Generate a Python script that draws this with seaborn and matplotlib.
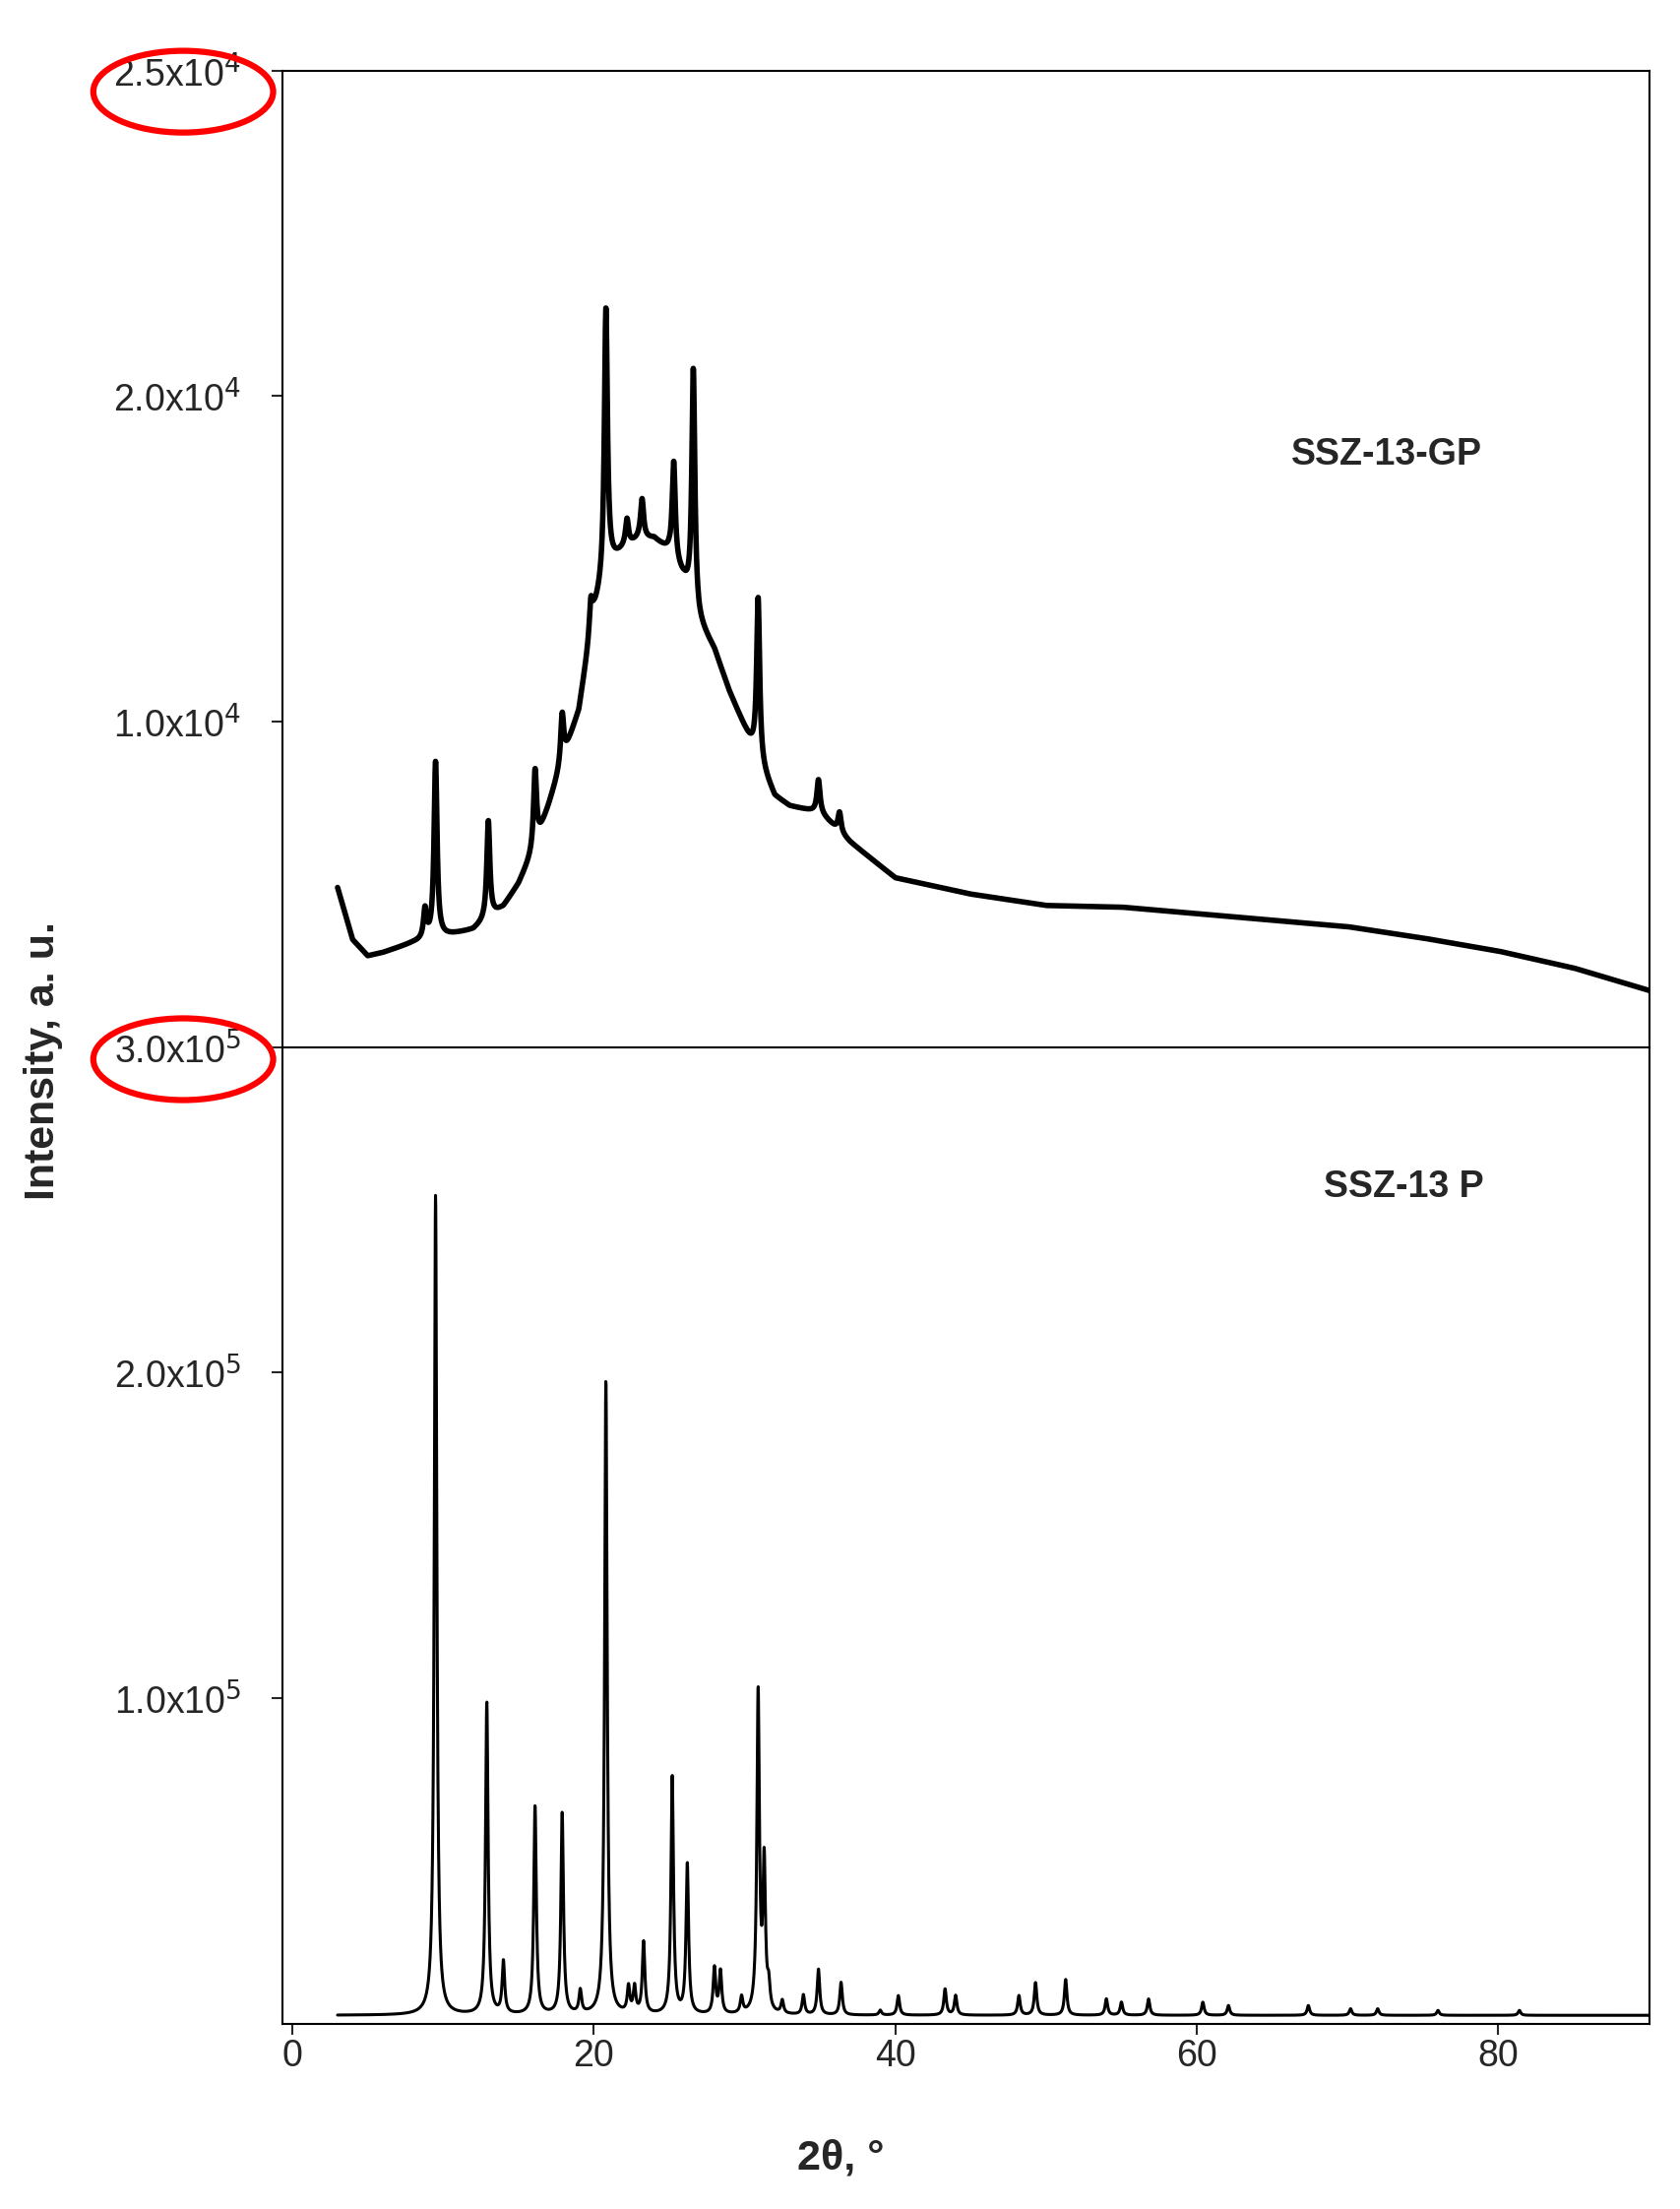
import numpy as np
import pandas as pd
import matplotlib
matplotlib.use("Agg")
import matplotlib.pyplot as plt
import seaborn as sns
from matplotlib.patches import Ellipse

sns.set_style("white")
plt.rcParams['font.family'] = ['Liberation Sans', 'DejaVu Sans']

# SSZ-13-GP: background points, plus peaks
gp_bg_x = [3, 4, 5, 6, 8, 10, 12, 14, 15, 16, 17, 18, 19, 20, 21, 22, 23, 24, 25, 26, 27, 28, 29, 30, 31, 32, 33, 35, 37, 40, 45, 50, 55, 60, 65, 70, 75, 80, 85, 90]
gp_bg_y = [4900, 3300, 2800, 2900, 3200, 3400, 3600, 4300, 5000, 6000, 7400, 8900, 10300, 13300, 14800, 15300, 15600, 15600, 15200, 14300, 13000, 12200, 10900, 9800, 8700, 7700, 7400, 7200, 6300, 5200, 4700, 4350, 4300, 4100, 3900, 3700, 3350, 2950, 2430, 1740]
gp_peak_pos = [8.8, 9.5, 13.0, 16.1, 17.9, 19.8, 20.8, 22.2, 23.2, 25.3, 26.6, 30.9, 34.9, 36.3]
gp_peak_h = [900, 5400, 3000, 2400, 1500, 1000, 8200, 800, 1200, 3000, 7300, 5000, 1000, 600]

# SSZ-13 P: baseline and peaks
p_bg = 2500
p_peak_pos = [9.5, 12.9, 14.0, 16.1, 17.9, 19.1, 20.8, 22.3, 22.7, 23.3, 25.2, 26.2, 28.0, 28.4, 29.8, 30.9, 31.3, 31.6, 32.5, 33.9, 34.9, 36.4, 39.0, 40.2, 43.3, 44.0, 48.2, 49.3, 51.3, 54.0, 55.0, 56.8, 60.4, 62.1, 67.4, 70.2, 72.0, 76.0, 81.4]
p_peak_h = [252000, 96000, 16000, 64000, 62000, 7000, 195000, 8000, 8000, 22000, 73000, 46000, 14000, 13000, 5000, 98000, 45000, 7000, 4000, 6000, 14000, 10000, 1500, 6000, 8000, 6000, 6000, 10000, 11000, 5000, 4000, 5000, 4000, 3000, 3000, 2000, 2000, 1500, 1500]

x = np.linspace(3, 90, 6000)

def pattern(bg, pos, h, w):
    y = np.array(bg, dtype=float) * np.ones_like(x)
    for p, a in zip(pos, h):
        y += a / (1 + ((x - p) / w) ** 2)
    return y

gp = pd.DataFrame({"x": x, "y": pattern(np.interp(x, gp_bg_x, gp_bg_y), gp_peak_pos, gp_peak_h, 0.12)})
pp = pd.DataFrame({"x": x, "y": pattern(p_bg, p_peak_pos, p_peak_h, 0.1)})

fig = plt.figure(figsize=(17.08, 22.44), dpi=100)
ax1 = fig.add_axes([0.168, 0.526, 0.813, 0.442])
ax2 = fig.add_axes([0.168, 0.084, 0.813, 0.442])

sns.lineplot(data=gp, x="x", y="y", ax=ax1, color="black", linewidth=4)
sns.lineplot(data=pp, x="x", y="y", ax=ax2, color="black", linewidth=2.2)

fs = 27
for ax in (ax1, ax2):
    ax.set_xlim(-0.66, 90)
    ax.set_xlabel("")
    ax.set_ylabel("")
    for s in ax.spines.values():
        s.set_color("black")
        s.set_linewidth(1.5)
    ax.tick_params(axis="both", direction="out", length=8, width=1.5, labelsize=fs, left=True, bottom=True)
    ax.tick_params(axis="y", pad=22)

ax1.set_ylim(0, 30000)
ax1.set_yticks([10000, 20000, 30000])
ax1.set_yticklabels(["1.0x10$^4$", "2.0x10$^4$", "2.5x10$^4$"])
ax1.set_xticks([])
ax1.spines["bottom"].set_visible(False)

ax2.set_ylim(0, 300000)
ax2.set_yticks([100000, 200000, 300000])
ax2.set_yticklabels(["1.0x10$^5$", "2.0x10$^5$", "3.0x10$^5$"])
ax2.set_xticks([0, 20, 40, 60, 80])

ax1.text(72.6, 18200, "SSZ-13-GP", fontsize=fs, fontweight="bold", ha="center", va="center")
ax2.text(73.7, 257000, "SSZ-13 P", fontsize=fs, fontweight="bold", ha="center", va="center")

fig.text(0.5, 0.023, "2θ, °", fontsize=31, fontweight="bold", ha="center", va="center")
fig.text(0.026, 0.52, "Intensity, a. u.", fontsize=31, fontweight="bold", rotation=90, ha="center", va="center")

# red ellipses around the two top labels
for cx, cy in [(0.109, 0.9585), (0.109, 0.5205)]:
    fig.add_artist(Ellipse((cx, cy), 0.107, 0.037, transform=fig.transFigure,
                           fill=False, edgecolor="red", linewidth=4.5))

fig.savefig("out.png", dpi=100)
